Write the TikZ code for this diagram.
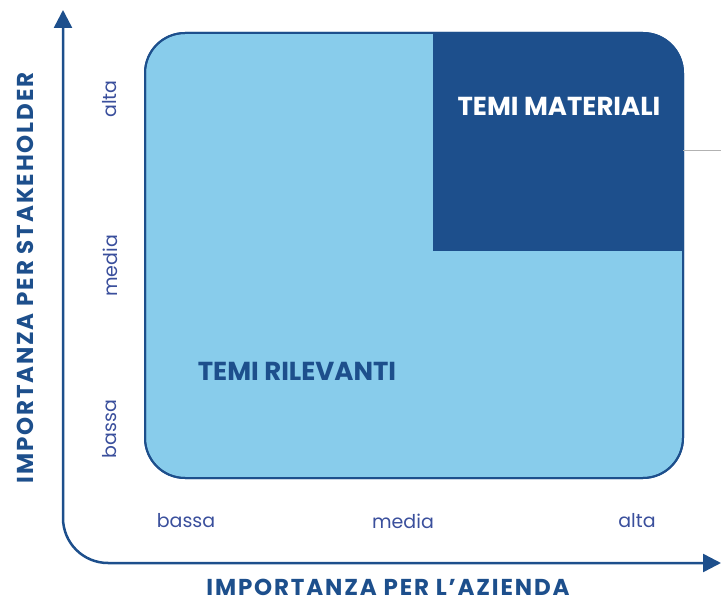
\documentclass[tikz,border=0pt]{standalone}
\usepackage{fontspec}
\setmainfont{Poppins}
\newfontfamily\largo[LetterSpace=8]{Poppins}
\usetikzlibrary{positioning,arrows.meta}
\usepackage{xcolor}
\definecolor{chiaro}{HTML}{88CCEB}
\definecolor{scuro}{HTML}{1D4F8C}
\definecolor{testo}{HTML}{3A4F9C}

\begin{document}
\begin{tikzpicture}[x=1pt,y=-1pt,
  titolo/.style={font=\fontsize{26}{30}\selectfont\bfseries},
  asse/.style={font=\fontsize{23}{27}\selectfont\largo\bfseries, text=scuro, anchor=base, inner sep=0pt},
  livello/.style={font=\fontsize{19}{22}\selectfont, text=testo}]
\useasboundingbox (0,0) rectangle (721,604);

\filldraw[fill=chiaro, draw=scuro, line width=2pt, rounded corners=40pt] (145,33) rectangle (683,478);
\fill[scuro] (433,251) -- (433,33) -- (643,33) arc[start angle=90, end angle=0, radius=40pt] -- (683,251) -- cycle;
\draw[scuro, line width=2pt, rounded corners=40pt] (145,33) rectangle (683,478);

\draw[gray!60, line width=1pt] (683,151) -- (721,151);

\draw[scuro, line width=2.5pt, rounded corners=45pt, {Triangle[length=18pt,width=18pt]}-{Triangle[length=18pt,width=18pt]}] (63,10) -- (63,563) -- (721,563);

\node[titolo, text=white] (materiali) at (559,106) {TEMI MATERIALI};
\node[titolo, text=scuro] (rilevanti) at (297,371) {TEMI RILEVANTI};

\node[livello, rotate=90] (altaS) at (110,99) {alta};
\node[livello, rotate=90] (mediaS) at (110,266) {media};
\node[livello, rotate=90] (bassaS) at (110,429) {bassa};

\node[livello] (bassaA) at (186,521) {bassa};
\node[livello] (mediaA) at (403,521) {media};
\node[livello] (altaA) at (637,521) {alta};

\node[asse, rotate=90] (stakeholder) at (33,278) {IMPORTANZA PER STAKEHOLDER};
\node[asse] (azienda) at (388,595) {IMPORTANZA PER L’AZIENDA};

\end{tikzpicture}
\end{document}
